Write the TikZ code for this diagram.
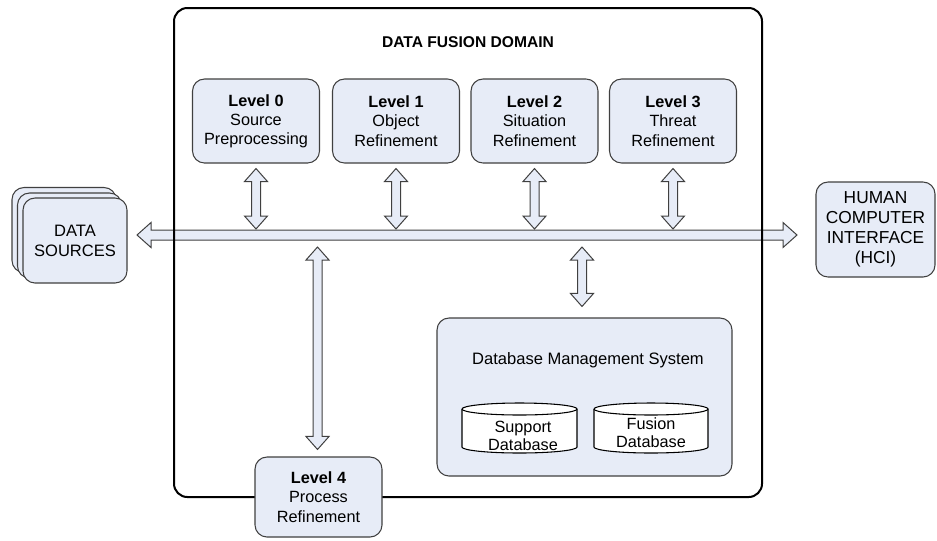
\documentclass[tikz,border=0pt]{standalone}
\usepackage{fontspec}
\setmainfont{Liberation Sans}
\usetikzlibrary{calc}
\definecolor{boxfill}{RGB}{231,236,247}
\definecolor{edge}{RGB}{64,64,64}
\tikzset{
 roundbox/.style={draw=edge, fill=boxfill, line width=0.8pt, rounded corners=9pt, align=center, inner sep=0pt},
 lvl/.style={roundbox, minimum width=95.25pt, minimum height=63pt, font=\fontsize{12.2}{14.4}\selectfont},
 srcbox/.style={roundbox, minimum width=78pt, minimum height=63.75pt, font=\fontsize{12.4}{15}\selectfont},
 blk/.style={draw=edge, fill=boxfill, line width=0.75pt, line join=miter},
 cyl/.style={draw=black, fill=white, line width=0.8pt},
 dbtext/.style={align=center, font=\fontsize{12.2}{13.5}\selectfont},
}
\newcommand\vdarrow[2]{\draw[blk] (#1) -- ($(#1)+(11.5,13)$) -- ($(#1)+(4.5,13)$) -- ($(#2)+(4.5,-13)$) -- ($(#2)+(11.5,-13)$) -- (#2) -- ($(#2)+(-11.5,-13)$) -- ($(#2)+(-4.5,-13)$) -- ($(#1)+(-4.5,13)$) -- ($(#1)+(-11.5,13)$) -- cycle;}
\newcommand\hdarrow[2]{\draw[blk] (#1) -- ($(#1)+(14,-12.5)$) -- ($(#1)+(14,-5)$) -- ($(#2)+(-14,-5)$) -- ($(#2)+(-14,-12.5)$) -- (#2) -- ($(#2)+(-14,12.5)$) -- ($(#2)+(-14,5)$) -- ($(#1)+(14,5)$) -- ($(#1)+(14,12.5)$) -- cycle;}
\begin{document}
\begin{tikzpicture}[x=0.75pt,y=-0.75pt]
\useasboundingbox (0,0) rectangle (937,540);
% domain
\coordinate (domNW) at (174,8);
\coordinate (domSE) at (762,497);
\node[font=\bfseries\fontsize{11.7}{13}\selectfont] (title) at (468,42) {DATA FUSION DOMAIN};
% level boxes
\node[lvl] (l0) at (256,121) {\textbf{Level 0}\\Source\\Preprocessing};
\node[lvl] (l1) at (396,121) {\textbf{Level 1}\\Object\\Refinement};
\node[lvl] (l2) at (534.5,121) {\textbf{Level 2}\\Situation\\Refinement};
\node[lvl] (l3) at (673,121) {\textbf{Level 3}\\Threat\\Refinement};
% data sources
\node[srcbox] (ds3) at (64,230) {};
\node[srcbox] (ds2) at (69.5,235.5) {};
\node[srcbox] (ds) at (75,240.5) {DATA\\SOURCES};
% HCI
\node[roundbox, minimum width=89.25pt, minimum height=71.25pt, font=\fontsize{13}{15}\selectfont] (hci) at (875.5,229.5) {HUMAN\\COMPUTER\\INTERFACE\\(HCI)};
% bus
\coordinate (busL) at (137,235);
\coordinate (busR) at (797,235);
\hdarrow{busL}{busR}
\draw[line width=1.5pt, rounded corners=10pt] (domNW) rectangle (domSE);
% DBMS
\node[roundbox, minimum width=221.25pt, minimum height=118.5pt] (dbms) at (584.5,397) {};
\node[font=\fontsize{12.4}{14}\selectfont] (dbmst) at (588,360) {Database Management System};
\draw[cyl] (462,409) -- (462,447) arc[start angle=180,end angle=360,x radius=43.125pt,y radius=4.5pt] -- (577,409) arc[start angle=0,end angle=180,x radius=43.125pt,y radius=4.5pt] -- cycle;
\draw[cyl] (462,409) arc[start angle=180,end angle=360,x radius=43.125pt,y radius=4.5pt];
\node[dbtext] (sdb) at (523,436) {Support\\Database};
\draw[cyl] (594,409) -- (594,447) arc[start angle=180,end angle=360,x radius=42.75pt,y radius=4.5pt] -- (708,409) arc[start angle=0,end angle=180,x radius=42.75pt,y radius=4.5pt] -- cycle;
\draw[cyl] (594,409) arc[start angle=180,end angle=360,x radius=42.75pt,y radius=4.5pt];
\node[dbtext] (fdb) at (651,433) {Fusion\\Database};
% Level 4
\node[lvl, minimum height=60pt] (l4) at (318.5,497) {\textbf{Level 4}\\Process\\Refinement};
% vertical arrows
\foreach \n in {l0,l1,l2,l3}{
  \coordinate (\n t) at ($(\n.south)+(0,5)$);
  \coordinate (\n b) at ($(\n.south |- busL)+(0,-6)$);
  \vdarrow{\n t}{\n b}
}
\coordinate (l4t) at ($(l4.north |- busL)+(-1,12)$);
\coordinate (l4b) at ($(l4.north)+(-1,-7)$);
\vdarrow{l4t}{l4b}
\coordinate (dbt) at ($(dbms.north |- busL)+(-2.5,12)$);
\coordinate (dbb) at ($(dbms.north)+(-2.5,-11)$);
\vdarrow{dbt}{dbb}
\end{tikzpicture}
\end{document}
